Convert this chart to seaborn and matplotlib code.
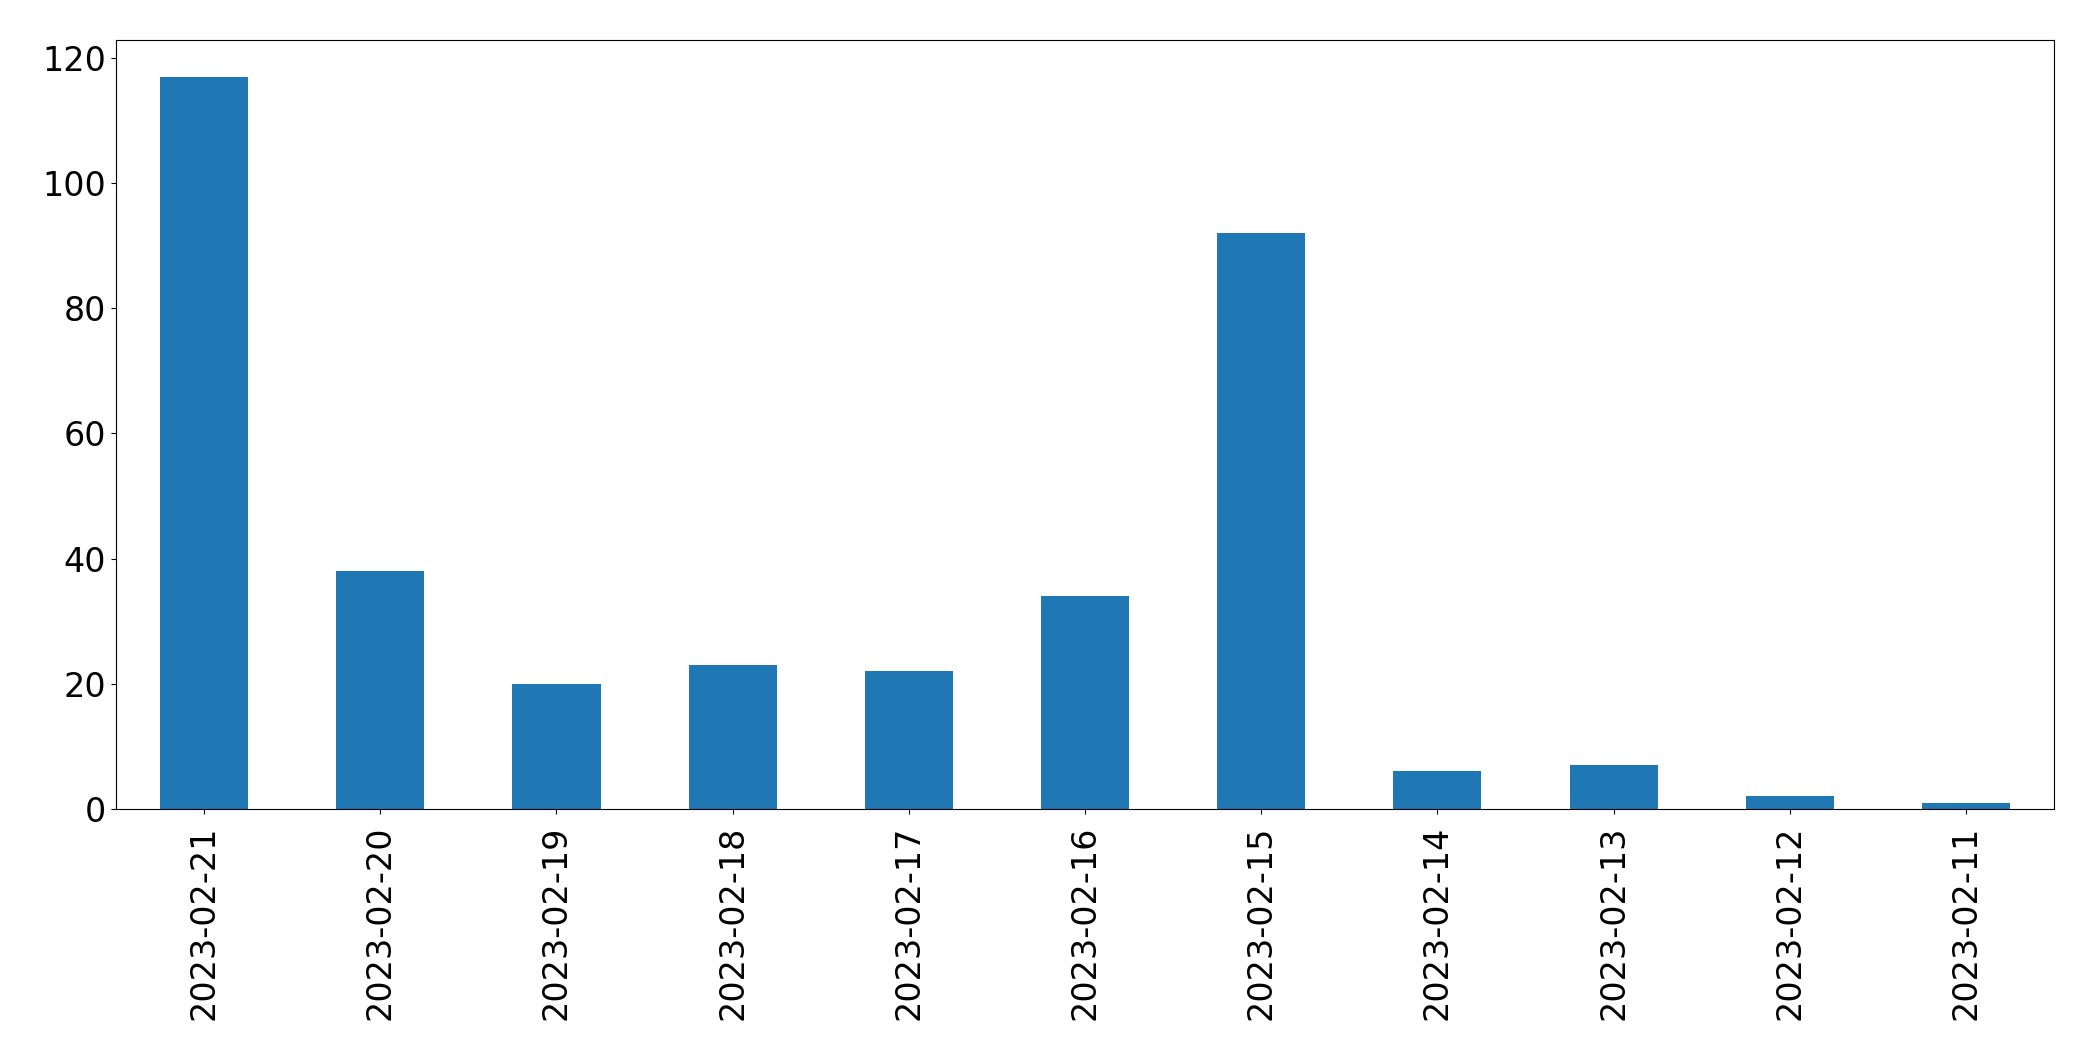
import matplotlib
matplotlib.use("Agg")
import matplotlib.pyplot as plt
import seaborn as sns
import pandas as pd

# daily counts, newest first
dates = ["2023-02-21", "2023-02-20", "2023-02-19", "2023-02-18", "2023-02-17",
         "2023-02-16", "2023-02-15", "2023-02-14", "2023-02-13", "2023-02-12",
         "2023-02-11"]
counts = [117, 38, 20, 23, 22, 34, 92, 6, 7, 2, 1]

df = pd.DataFrame({"date": dates, "count": counts})

fig, ax = plt.subplots(figsize=(20.93, 10.61), dpi=100)
fig.subplots_adjust(left=116 / 2093, right=2054 / 2093,
                    top=1 - 40 / 1061, bottom=1 - 809 / 1061)

sns.barplot(data=df, x="date", y="count", order=dates, color="#1f77b4",
            saturation=1, width=0.5, ax=ax)

ax.set_xlabel("")
ax.set_ylabel("")
ax.set_xlim(-0.5, len(dates) - 0.5)
ax.set_ylim(0, max(counts) * 1.05)
ax.tick_params(axis="x", labelrotation=90, labelsize=24, pad=8.5)
ax.tick_params(axis="y", labelsize=24)
for s in ax.spines.values():
    s.set_color("black")

plt.savefig("out.png", dpi=100)
plt.close()
